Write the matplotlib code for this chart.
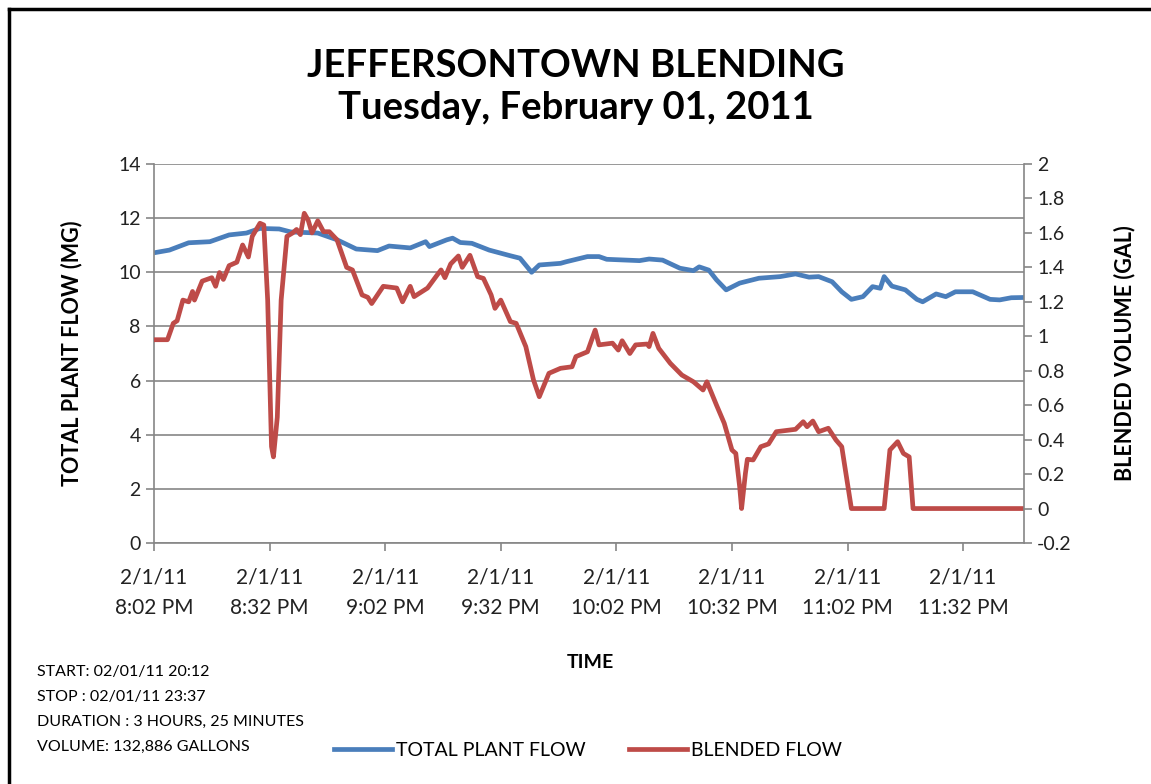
import numpy as np
import matplotlib
matplotlib.use("Agg")
import matplotlib.pyplot as plt
from matplotlib.lines import Line2D

plt.rcParams['font.family'] = ['Lato', 'DejaVu Sans']

# minutes after 2/1/11 8:02 PM
plant_t = [0, 4, 9, 14.5, 19.5, 24, 27.5, 32.5, 35.5, 42.5, 47.5, 52.5, 58, 61, 66.5,
           70.5, 71.5, 76, 77.5, 79.5, 82.5, 87, 92.5, 95, 98, 100, 105.5, 107, 112.5,
           115.5, 117.5, 126, 128.5, 132, 136.5, 140, 141.5, 144, 146, 148.5, 152, 157,
           162.5, 166.5, 170, 172.5, 176, 178.5, 181, 184, 186.5, 188.5, 189.5, 191.5,
           195, 198, 199.5, 203, 205.5, 208, 212.5, 217, 219.5, 222.5, 226]
plant_flow = [10.72, 10.82, 11.09, 11.13, 11.38, 11.45, 11.62, 11.6, 11.49, 11.45, 11.2,
              10.86, 10.8, 10.97, 10.9, 11.13, 10.95, 11.2, 11.26, 11.1, 11.07, 10.82,
              10.61, 10.52, 10.0, 10.27, 10.33, 10.39, 10.58, 10.58, 10.48, 10.43, 10.49,
              10.45, 10.15, 10.06, 10.2, 10.08, 9.72, 9.35, 9.6, 9.78, 9.84, 9.94, 9.82,
              9.84, 9.65, 9.28, 9.0, 9.1, 9.47, 9.41, 9.84, 9.49, 9.35, 9.0, 8.91, 9.2,
              9.1, 9.28, 9.28, 9.0, 8.98, 9.06, 9.07]

blend_t = [0, 3.5, 5, 6, 7.5, 9, 10, 10.5, 12.5, 15, 16, 17, 18, 19.5, 21.5, 23, 24.5,
           25.5, 27.5, 28.5, 29.5, 30.5, 31, 32, 33, 34.5, 36, 37, 38, 39, 40, 41, 42.5,
           44, 45.5, 47.5, 50, 51.5, 54, 55.5, 56.5, 59.5, 63, 64.5, 66.5, 67.5, 71,
           73.5, 74.5, 75.5, 77, 79, 80, 82, 84, 85.5, 87.5, 88.5, 90, 92.5, 94, 96.5,
           98.5, 100, 102.5, 105.5, 108.5, 109.5, 112.5, 114.5, 115.5, 119, 120.5,
           121.5, 123.5, 125, 128, 128.5, 129.5, 131, 134, 137, 140, 142.5, 143.5,
           146, 148, 150, 151, 152, 152.5, 153.5, 154, 155.5, 157.5, 159.5, 161.5,
           166.5, 168.5, 169.5, 171, 172.5, 175, 177, 178.5, 181, 189.5, 191, 193,
           194.5, 196, 197, 226]
blend_flow = [0.98, 0.98, 1.075, 1.09, 1.21, 1.2, 1.26, 1.21, 1.32, 1.34, 1.29, 1.37,
              1.33, 1.41, 1.43, 1.53, 1.46, 1.58, 1.656, 1.646, 1.21, 0.36, 0.3, 0.53,
              1.21, 1.58, 1.6, 1.62, 1.59, 1.714, 1.675, 1.6, 1.67, 1.607, 1.607, 1.56,
              1.4, 1.385, 1.24, 1.226, 1.19, 1.29, 1.28, 1.2, 1.29, 1.23, 1.28, 1.356,
              1.385, 1.34, 1.42, 1.466, 1.4, 1.47, 1.346, 1.336, 1.24, 1.162, 1.21,
              1.085, 1.075, 0.94, 0.746, 0.649, 0.785, 0.814, 0.823, 0.882, 0.91, 1.036,
              0.95, 0.96, 0.92, 0.974, 0.9, 0.95, 0.955, 0.94, 1.017, 0.93, 0.843, 0.775,
              0.736, 0.688, 0.736, 0.6, 0.495, 0.34, 0.32, 0.127, 0.0, 0.205, 0.286,
              0.282, 0.359, 0.375, 0.446, 0.46, 0.504, 0.475, 0.508, 0.446, 0.466, 0.398,
              0.359, 0.0, 0.0, 0.34, 0.388, 0.32, 0.3, 0.0, 0.0]

tick_minutes = [0, 30, 60, 90, 120, 150, 180, 210]
tick_labels = ["2/1/11\n8:02 PM", "2/1/11\n8:32 PM", "2/1/11\n9:02 PM", "2/1/11\n9:32 PM",
               "2/1/11\n10:02 PM", "2/1/11\n10:32 PM", "2/1/11\n11:02 PM", "2/1/11\n11:32 PM"]

info_lines = ["START: 02/01/11 20:12", "STOP : 02/01/11 23:37",
              "DURATION : 3 HOURS, 25 MINUTES", "VOLUME: 132,886 GALLONS"]

blue = "#4a7ebb"
red = "#be4b48"
grid_col = "#868686"
txt = "#222222"

fig = plt.figure(figsize=(11.51, 7.84), dpi=100)
ax = fig.add_axes([154 / 1151, 1 - 543 / 784, (1024 - 154) / 1151, (543 - 164) / 784])
ax2 = ax.twinx()

ax.plot(plant_t, plant_flow, color=blue, lw=3.4, solid_joinstyle='round', solid_capstyle='butt')
ax2.plot(blend_t, blend_flow, color=red, lw=3.4, solid_joinstyle='round', solid_capstyle='butt')

ax.set_xlim(0, 225.8)
ax.set_ylim(0, 14)
ax.set_yticks(np.arange(0, 15, 2))
right_ticks = np.round(np.arange(-0.2, 2.01, 0.2), 1)
ax2.set_ylim(-0.2, 2)
ax2.set_yticks(right_ticks)
ax2.set_yticklabels(["%g" % v for v in right_ticks])
ax.set_xticks(tick_minutes)
ax.set_xticklabels(tick_labels, fontsize=15, linespacing=1.6)
ax.yaxis.grid(True, color=grid_col, lw=1.2)
ax.set_axisbelow(True)

for a in (ax, ax2):
    a.spines['top'].set_visible(False)
    for s in ('left', 'right', 'bottom'):
        a.spines[s].set_color(grid_col)
        a.spines[s].set_linewidth(1.2)
    a.tick_params(colors=grid_col, labelcolor=txt, labelsize=14, length=6, width=1.2)
ax.spines['right'].set_visible(False)
ax2.spines['left'].set_visible(False)
ax2.spines['bottom'].set_visible(False)
ax.tick_params(axis='x', pad=12, labelsize=15)

ax.set_ylabel("TOTAL PLANT FLOW (MG)", fontsize=15.5, fontweight='bold', color='black', labelpad=26)
ax2.set_ylabel("BLENDED VOLUME (GAL)", fontsize=15.5, fontweight='bold', color='black', labelpad=30)

fig.text(0.5, 1 - 87 / 784, "JEFFERSONTOWN BLENDING\nTuesday, February 01, 2011",
         ha='center', va='center', fontsize=27.5, fontweight='bold', linespacing=1.3)
fig.text(590 / 1151, 1 - 662 / 784, "TIME", ha='center', va='center', fontsize=14, fontweight='bold')

for i, line in enumerate(info_lines):
    fig.text(37 / 1151, 1 - (672 + i * 25) / 784, line, ha='left', va='center', fontsize=11.5)

leg = [Line2D([0], [0], color=blue, lw=3.4), Line2D([0], [0], color=red, lw=3.4)]
fig.legend(leg, ["TOTAL PLANT FLOW", "BLENDED FLOW"], loc='center',
           bbox_to_anchor=(588 / 1151, 1 - 750 / 784), ncol=2, frameon=False,
           fontsize=14, handlelength=3, handletextpad=0.2, columnspacing=2.2)

# frame around the chart (top and left edges show in the picture)
fig.add_artist(Line2D([9 / 1151, 1], [1 - 9 / 784, 1 - 9 / 784], color='black', lw=2.5,
                      transform=fig.transFigure))
fig.add_artist(Line2D([9 / 1151, 9 / 1151], [0, 1 - 9 / 784], color='black', lw=2.5,
                      transform=fig.transFigure))

fig.savefig("out.png", dpi=100)
